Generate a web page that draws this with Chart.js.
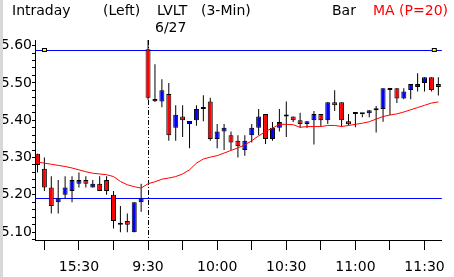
<!DOCTYPE html>
<html>
<head>
<meta charset="utf-8">
<script src="https://cdn.jsdelivr.net/npm/chart.js@4"></script>
<style>
  body { margin: 0; background: #fff; }
  #wrap { position: relative; width: 454px; height: 277px; overflow: hidden; }
  #edge { position: absolute; left: 0; top: 0; width: 3px; height: 277px; background: #d8d8d8; }
  .lbl { position: absolute; font: 14px 'DejaVu Sans', sans-serif; line-height: 14px; white-space: nowrap; color: #000; }
</style>
</head>
<body>
<div id="wrap">
  <canvas id="chart" width="454" height="277"></canvas>
  <div id="edge"></div>
  <span class="lbl" style="left:12px;top:3px">Intraday</span>
  <span class="lbl" style="left:103px;top:3px">(Left)</span>
  <span class="lbl" style="left:157px;top:3px">LVLT</span>
  <span class="lbl" style="left:201px;top:3px">(3-Min)</span>
  <span class="lbl" style="left:155px;top:20px">6/27</span>
  <span class="lbl" style="left:332px;top:3px">Bar</span>
  <span class="lbl" style="left:373px;top:3px;color:#ff0000">MA (P=20)</span>
</div>
<script>
// 3-minute bars: end of previous session, then 6/27 morning
const times = [
  '15:12', '15:15', '15:18', '15:21', '15:24', '15:27', '15:30', '15:33', '15:36', '15:39',
  '15:42', '15:45', '15:48', '15:51', '15:54', '15:57',
  '9:30', '9:33', '9:36', '9:39', '9:42', '9:45', '9:48', '9:51', '9:54', '9:57',
  '10:00', '10:03', '10:06', '10:09', '10:12', '10:15', '10:18', '10:21', '10:24', '10:27',
  '10:30', '10:33', '10:36', '10:39', '10:42', '10:45', '10:48', '10:51', '10:54', '10:57',
  '11:00', '11:03', '11:06', '11:09', '11:12', '11:15', '11:18', '11:21', '11:24', '11:27',
  '11:30', '11:33', '11:36'
];

const opens = [
  5.31, 5.27, 5.22, 5.18, 5.20, 5.21, 5.23, 5.24, 5.22, 5.23,
  5.24, 5.20, 5.12, 5.13, 5.10, 5.18,
  5.59, 5.457, 5.45, 5.47, 5.38, 5.41, 5.39, 5.40, 5.43, 5.45,
  5.35, 5.37, 5.36, 5.345, 5.32, 5.36, 5.38, 5.417, 5.35, 5.38,
  5.415, 5.41, 5.40, 5.39, 5.40, 5.417, 5.40, 5.448, 5.448, 5.397,
  5.417, 5.416, 5.419, 5.427, 5.43, 5.486, 5.486, 5.458, 5.481, 5.489,
  5.50, 5.515, 5.497
];
const highs = [
  5.31, 5.30, 5.25, 5.24, 5.25, 5.25, 5.26, 5.25, 5.24, 5.25,
  5.25, 5.21, 5.17, 5.15, 5.18, 5.23,
  5.615, 5.55, 5.51, 5.50, 5.44, 5.44, 5.398, 5.44, 5.467, 5.46,
  5.39, 5.39, 5.37, 5.36, 5.36, 5.39, 5.43, 5.417, 5.395, 5.43,
  5.45, 5.41, 5.42, 5.397, 5.425, 5.417, 5.448, 5.48, 5.448, 5.417,
  5.417, 5.416, 5.427, 5.438, 5.486, 5.486, 5.486, 5.486, 5.497, 5.526,
  5.515, 5.515, 5.515
];
const lows = [
  5.26, 5.21, 5.15, 5.15, 5.19, 5.18, 5.22, 5.22, 5.22, 5.21,
  5.20, 5.11, 5.10, 5.10, 5.10, 5.155,
  5.455, 5.449, 5.435, 5.345, 5.345, 5.355, 5.325, 5.385, 5.397, 5.345,
  5.325, 5.32, 5.32, 5.30, 5.305, 5.34, 5.36, 5.336, 5.345, 5.37,
  5.355, 5.395, 5.38, 5.379, 5.335, 5.383, 5.39, 5.425, 5.383, 5.386,
  5.381, 5.408, 5.408, 5.367, 5.396, 5.414, 5.446, 5.456, 5.456, 5.477,
  5.477, 5.477, 5.466
];
const closes = [
  5.28, 5.22, 5.17, 5.19, 5.22, 5.24, 5.24, 5.23, 5.23, 5.21,
  5.21, 5.13, 5.12, 5.12, 5.18, 5.19,
  5.46, 5.451, 5.48, 5.36, 5.415, 5.40, 5.398, 5.43, 5.43, 5.35,
  5.37, 5.38, 5.34, 5.33, 5.345, 5.38, 5.41, 5.35, 5.38, 5.395,
  5.41, 5.40, 5.39, 5.397, 5.417, 5.40, 5.448, 5.44, 5.40, 5.389,
  5.417, 5.416, 5.427, 5.427, 5.486, 5.481, 5.458, 5.477, 5.497, 5.497,
  5.515, 5.481, 5.489
];
const ma20 = [
  5.288, 5.285, 5.282, 5.279, 5.276, 5.272, 5.267, 5.262, 5.258, 5.256,
  5.254, 5.249, 5.236, 5.227, 5.222, 5.218,
  5.230, 5.235, 5.242, 5.245, 5.249, 5.256, 5.267, 5.285, 5.296, 5.301,
  5.305, 5.312, 5.319, 5.326, 5.334, 5.345, 5.358, 5.370, 5.379, 5.389,
  5.389, 5.388, 5.381, 5.383, 5.383, 5.383, 5.386, 5.386, 5.383, 5.386,
  5.389, 5.392, 5.396, 5.403, 5.410, 5.414, 5.417, 5.422, 5.428, 5.434,
  5.440, 5.446, 5.449
];
// horizontal reference levels (blue)
const refLevels = [5.588, 5.191];
const yRange = [5.079, 5.615];

const sessionStart = times.indexOf('9:30');
const mins = t => +t.split(':')[1];
const xTicks = times.map((t, i) => i).filter(i => mins(times[i]) % 15 === 0);

const bodyColor = (o, c) => c > o ? '#0000ff' : (c < o ? '#ff0000' : '#000000');

const overlay = {
  id: 'overlay',
  beforeDatasetsDraw(chart) {
    const { ctx, chartArea: a, scales: { x, y } } = chart;
    ctx.save();
    ctx.lineWidth = 1;
    ctx.strokeStyle = '#0000ff';
    refLevels.forEach(v => {
      const py = Math.floor(y.getPixelForValue(v)) + 0.5;
      ctx.beginPath(); ctx.moveTo(a.left, py); ctx.lineTo(a.right, py); ctx.stroke();
    });
    const px = Math.floor(x.getPixelForValue(sessionStart)) + 0.5;
    ctx.strokeStyle = '#000';
    ctx.setLineDash([5, 2, 1, 2]);
    ctx.beginPath(); ctx.moveTo(px, a.top); ctx.lineTo(px, a.bottom); ctx.stroke();
    ctx.restore();
  },
  afterDatasetsDraw(chart) {
    const { ctx, chartArea: a, scales: { y } } = chart;
    const py = Math.floor(y.getPixelForValue(refLevels[0]));
    ctx.save();
    ctx.fillStyle = '#ffff00';
    ctx.strokeStyle = '#000';
    [a.left + 7, a.right - 10].forEach(px => {
      ctx.fillRect(px, py - 1, 4, 3);
      ctx.strokeRect(px + 0.5, py - 1.5, 4, 3);
    });
    ctx.restore();
  }
};

new Chart(document.getElementById('chart'), {
  data: {
    datasets: [
      {
        type: 'line',
        label: 'MA (P=20)',
        data: ma20.map((v, i) => ({ x: i, y: v })),
        borderColor: '#ff0000',
        borderWidth: 1,
        pointRadius: 0,
        tension: 0,
        order: 0
      },
      {
        type: 'bar',
        label: 'Body',
        data: opens.map((o, i) => ({ x: i, y: [o, closes[i]] })),
        backgroundColor: opens.map((o, i) => bodyColor(o, closes[i])),
        borderColor: '#000',
        borderWidth: 1,
        borderSkipped: false,
        barThickness: 5,
        minBarLength: 2,
        inflateAmount: 0,
        grouped: false,
        order: 1
      },
      {
        type: 'bar',
        label: 'Range',
        data: lows.map((l, i) => ({ x: i, y: [l, highs[i]] })),
        backgroundColor: '#000',
        borderWidth: 0,
        barThickness: 1,
        inflateAmount: 0,
        grouped: false,
        order: 2
      }
    ]
  },
  options: {
    responsive: false,
    animation: false,
    events: [],
    layout: { autoPadding: false, padding: { top: 40, right: 7, left: 0, bottom: 0 } },
    plugins: {
      legend: { display: false },
      tooltip: { enabled: false }
    },
    scales: {
      x: {
        type: 'linear',
        offset: false,
        min: -0.357,
        max: 58.5,
        afterBuildTicks: s => { s.ticks = xTicks.map(v => ({ value: v })); },
        afterFit: s => { s.height = 37; },
        grid: { offset: false, drawOnChartArea: false, tickLength: 10, color: '#000', tickColor: '#000' },
        border: { display: true, color: '#000', width: 1 },
        ticks: {
          autoSkip: false,
          maxRotation: 0,
          padding: 9,
          color: '#000',
          font: { family: 'DejaVu Sans', size: 14 },
          callback: v => {
            const t = times[v];
            return t && mins(t) % 30 === 0 ? t : '';
          }
        }
      },
      y: {
        min: yRange[0],
        max: yRange[1],
        afterFit: s => { s.width = 35; },
        grid: { drawOnChartArea: false, tickLength: 3, color: '#000', tickColor: '#000' },
        border: { display: true, color: '#000', width: 1 },
        ticks: {
          stepSize: 0.02,
          includeBounds: false,
          autoSkip: false,
          padding: 0,
          color: '#000',
          font: { family: 'DejaVu Sans', size: 14 },
          callback: v => Math.abs(v * 10 - Math.round(v * 10)) < 1e-6 ? v.toFixed(2) : ''
        }
      }
    }
  },
  plugins: [overlay]
});
</script>
</body>
</html>
